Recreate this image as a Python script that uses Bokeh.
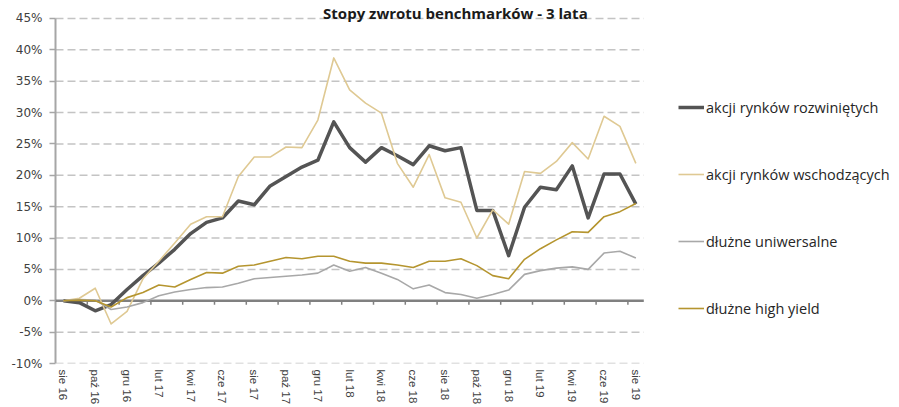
from bokeh.plotting import figure
from bokeh.models import Range1d, FixedTicker, PrintfTickFormatter, Legend, LegendItem, Label
from bokeh.embed import file_html
from bokeh.resources import INLINE

# ---- data -------------------------------------------------------------
MONTHS = ["sie 16", "wrz 16", "paź 16", "lis 16", "gru 16", "sty 17", "lut 17",
          "mar 17", "kwi 17", "maj 17", "cze 17", "lip 17", "sie 17", "wrz 17",
          "paź 17", "lis 17", "gru 17", "sty 18", "lut 18", "mar 18", "kwi 18",
          "maj 18", "cze 18", "lip 18", "sie 18", "wrz 18", "paź 18", "lis 18",
          "gru 18", "sty 19", "lut 19", "mar 19", "kwi 19", "maj 19", "cze 19",
          "lip 19", "sie 19"]

developed = [0, -0.3, -1.6, -0.6, 1.8, 4.0, 6.0, 8.2, 10.7, 12.5, 13.2, 15.9, 15.3,
             18.3, 19.8, 21.3, 22.4, 28.5, 24.4, 22.1, 24.4, 23.1, 21.7, 24.7, 23.9,
             24.4, 14.4, 14.4, 7.2, 14.9, 18.1, 17.7, 21.5, 13.2, 20.2, 20.2, 15.4]

emerging = [0, 0.4, 2.0, -3.7, -1.7, 3.5, 6.3, 9.2, 12.2, 13.4, 13.4, 19.8, 22.9,
            22.9, 24.5, 24.4, 28.8, 38.7, 33.6, 31.5, 29.9, 21.9, 18.1, 23.3, 16.4,
            15.7, 10.0, 14.5, 12.2, 20.6, 20.3, 22.2, 25.2, 22.6, 29.4, 27.8, 21.9]

universal = [0, 0.2, 0.1, -1.4, -1.0, -0.3, 0.8, 1.4, 1.8, 2.1, 2.2, 2.8, 3.5, 3.7,
             3.9, 4.1, 4.4, 5.7, 4.7, 5.3, 4.4, 3.4, 1.9, 2.5, 1.3, 1.0, 0.4, 1.0,
             1.7, 4.2, 4.8, 5.2, 5.4, 5.0, 7.6, 7.9, 6.8]

high_yield = [0, 0.1, 0.0, -1.0, 0.5, 1.3, 2.5, 2.2, 3.4, 4.5, 4.4, 5.5, 5.7, 6.3,
              6.9, 6.7, 7.1, 7.1, 6.3, 6.0, 6.0, 5.7, 5.3, 6.3, 6.3, 6.7, 5.6, 4.0,
              3.5, 6.6, 8.3, 9.7, 11.0, 10.9, 13.4, 14.2, 15.5]

SERIES_NAMES = ["akcji rynków rozwiniętych", "akcji rynków wschodzących",
                "dłużne uniwersalne", "dłużne high yield"]
TITLE = "Stopy zwrotu benchmarków - 3 lata"
YTICKS = [-10, -5, 0, 5, 10, 15, 20, 25, 30, 35, 40, 45]

# ---- styles / layout ------------------------------------------------------
DEV_COLOR = "#545454"
EM_COLOR = "#dfc993"
UNI_COLOR = "#a8a8a8"
HY_COLOR = "#b5952f"
GRID_COLOR = "#c4c4c4"
AXIS_COLOR = "#a6a6a6"
ZERO_COLOR = "#808080"
TICK_FONT = "DejaVu Sans"
TEXT_FONT = "Open Sans"

W, H = 899, 407
LEFT, BOTTOM = 53, 42
FRAME_W, FRAME_H = W - LEFT, H - BOTTOM
PX = 15.9            # pixels per month
AXIS_GAP = 2         # px between frame edge and the drawn y axis line
TOP_GAP = 18         # px between frame top and the top gridline

n = len(MONTHS)
xs = list(range(n))
YMIN, YMAX = YTICKS[0], YTICKS[-1]
px_per_unit_y = (FRAME_H - TOP_GAP) / (YMAX - YMIN)
YTOP = YMAX + TOP_GAP / px_per_unit_y
X0 = -0.5 - AXIS_GAP / PX
X1 = X0 + FRAME_W / PX
XL, XR = -0.5, n - 0.5

p = figure(width=W, height=H, output_backend="svg", toolbar_location=None,
           x_range=Range1d(X0, X1), y_range=Range1d(YMIN, YTOP),
           min_border_left=LEFT, min_border_right=0, min_border_top=0,
           min_border_bottom=BOTTOM)
p.outline_line_color = None
p.background_fill_color = "white"
p.border_fill_color = "white"
p.xgrid.grid_line_color = None
p.ygrid.grid_line_color = None

# y axis: ticks + labels from bokeh, line drawn as a segment
p.yaxis.ticker = FixedTicker(ticks=YTICKS)
p.yaxis.formatter = PrintfTickFormatter(format="%d%%")
p.yaxis.axis_line_color = None
p.yaxis.major_tick_out = 4
p.yaxis.major_tick_in = AXIS_GAP
p.yaxis.major_tick_line_color = AXIS_COLOR
p.yaxis.major_tick_line_width = 1.5
p.yaxis.minor_tick_line_color = None
p.yaxis.minor_tick_out = 0
p.yaxis.major_label_text_font = TICK_FONT
p.yaxis.major_label_text_font_size = "12px"
p.yaxis.major_label_text_color = "#404040"
p.yaxis.major_label_standoff = 7

# x axis: labels only
even = xs[::2]
p.xaxis.ticker = FixedTicker(ticks=even)
p.xaxis.major_label_overrides = {i: MONTHS[i] for i in even}
p.xaxis.major_label_orientation = "vertical"
p.xaxis.axis_line_color = None
p.xaxis.major_tick_line_color = None
p.xaxis.minor_tick_line_color = None
p.xaxis.major_tick_out = 0
p.xaxis.major_tick_in = 0
p.xaxis.minor_tick_out = 0
p.xaxis.minor_tick_in = 0
p.xaxis.major_label_text_font = "Liberation Sans"
p.xaxis.major_label_text_font_size = "11.5px"
p.xaxis.major_label_text_color = "#404040"
p.xaxis.major_label_standoff = 6

# dashed horizontal grid (only across the data area)
grid_y = [t for t in YTICKS if t != 0]
p.segment(x0=[XL] * len(grid_y), y0=grid_y, x1=[XR] * len(grid_y), y1=grid_y,
          line_color=GRID_COLOR, line_width=1.5, line_dash="8 4")

# y axis line
p.segment(x0=[XL], y0=[YMIN], x1=[XL], y1=[YMAX], line_color=AXIS_COLOR, line_width=2)

# zero line with category ticks every two months
p.segment(x0=[XL], y0=[0], x1=[XR], y1=[0], line_color=ZERO_COLOR, line_width=2.5)
tick_len = 4 / px_per_unit_y
tx = [i - 0.5 for i in even[1:]]
p.segment(x0=tx, y0=[0] * len(tx), x1=tx, y1=[-tick_len] * len(tx),
          line_color=ZERO_COLOR, line_width=1.5)

# series
r_dev = p.line(xs, developed, line_color=DEV_COLOR, line_width=3.5, line_join="round")
r_em = p.line(xs, emerging, line_color=EM_COLOR, line_width=1.6, line_join="round")
r_uni = p.line(xs, universal, line_color=UNI_COLOR, line_width=1.6, line_join="round")
r_hy = p.line(xs, high_yield, line_color=HY_COLOR, line_width=1.6, line_join="round")

legend = Legend(items=[LegendItem(label=SERIES_NAMES[0], renderers=[r_dev]),
                       LegendItem(label=SERIES_NAMES[1], renderers=[r_em]),
                       LegendItem(label=SERIES_NAMES[2], renderers=[r_uni]),
                       LegendItem(label=SERIES_NAMES[3], renderers=[r_hy])],
                location=(625, 45), orientation="vertical", spacing=47,
                glyph_width=26, glyph_height=20, label_height=20, label_standoff=2,
                padding=0, margin=0, border_line_alpha=0, background_fill_alpha=0,
                label_text_font=TEXT_FONT, label_text_font_size="14.5px",
                label_text_color="#262626")
p.add_layout(legend)

title = Label(x=24.65, y=YMAX, y_offset=5, text=TITLE, text_align="center",
              text_baseline="alphabetic", text_font=TEXT_FONT, text_font_style="bold",
              text_font_size="15px", text_color="#1a1a1a")
p.add_layout(title)

open("out.html", "w").write(file_html(p, INLINE))
